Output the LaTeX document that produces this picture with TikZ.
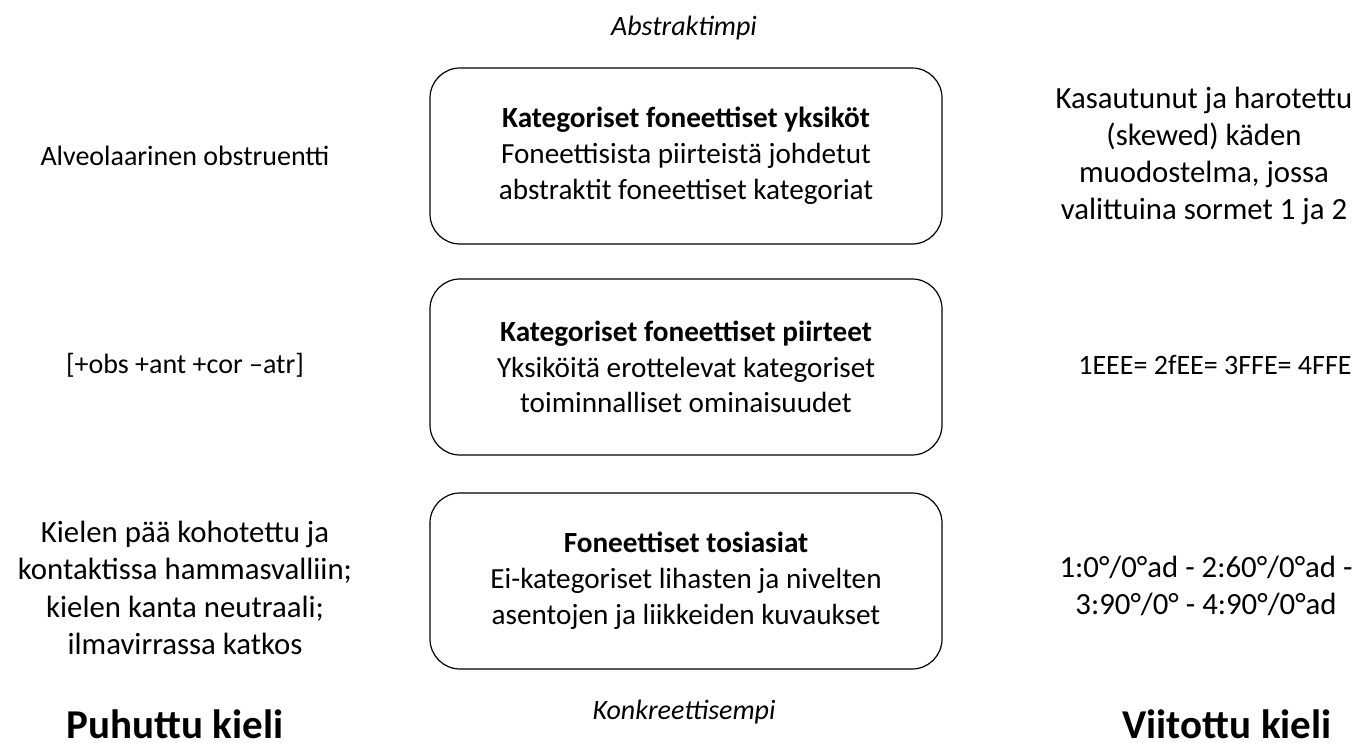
\documentclass[tikz,border=0pt]{standalone}
\usepackage{fontspec}
\setmainfont{Carlito}
\usepackage{tikz}

\begin{document}
\begin{tikzpicture}[x=0.5pt,y=-0.5pt]
\tikzstyle{tier}=[draw,rounded corners=15pt,line width=0.6pt,minimum width=256pt,minimum height=88pt,align=center,font=\fontsize{14.6}{17.9}\selectfont]
\tikzstyle{side}=[align=center,font=\fontsize{14}{17.5}\selectfont]
\tikzstyle{wide}=[side,font=\fontsize{15.4}{18.6}\selectfont]
\tikzstyle{pole}=[font=\fontsize{14}{17}\selectfont\itshape]
\tikzstyle{lang}=[inner sep=0pt,anchor=base,font=\fontsize{20.5}{23}\selectfont\bfseries]
\useasboundingbox (0,0) rectangle (1369,743);
\node[pole] (abstr) at (684,28) {Abstraktimpi};
\node[tier] (units) at (686,156) {\textbf{Kategoriset foneettiset yksiköt}\\Foneettisista piirteistä johdetut\\abstraktit foneettiset kategoriat};
\node[tier] (feats) at (686,367) {\textbf{Kategoriset foneettiset piirteet}\\Yksiköitä erottelevat kategoriset\\toiminnalliset ominaisuudet};
\node[tier] (facts) at (686,581) {\textbf{Foneettiset tosiasiat}\\Ei-kategoriset lihasten ja nivelten\\asentojen ja liikkeiden kuvaukset};
\node[pole] (konkr) at (684,712) {Konkreettisempi};
% puhuttu kieli
\node[side] (sp1) at (185,156) {Alveolaarinen obstruentti};
\node[side] (sp2) at (185,365) {[+obs +ant +cor –atr]};
\node[wide] (sp3) at (185,588) {Kielen pää kohotettu ja\\kontaktissa hammasvalliin;\\kielen kanta neutraali;\\ilmavirrassa katkos};
\node[lang] (spoken) at (175,738) {Puhuttu kieli};
% viitottu kieli
\node[wide] (sg1) at (1204,156) {Kasautunut ja harotettu\\(skewed) käden\\muodostelma, jossa\\valittuina sormet 1 ja 2};
\node[side] (sg2) at (1215,365) {1EEE= 2fEE= 3FFE= 4FFE};
\node[wide] (sg3) at (1206,586) {1:0°/0°ad - 2:60°/0°ad -\\3:90°/0° - 4:90°/0°ad};
\node[lang] (signed) at (1227,738) {Viitottu kieli};
\end{tikzpicture}
\end{document}
